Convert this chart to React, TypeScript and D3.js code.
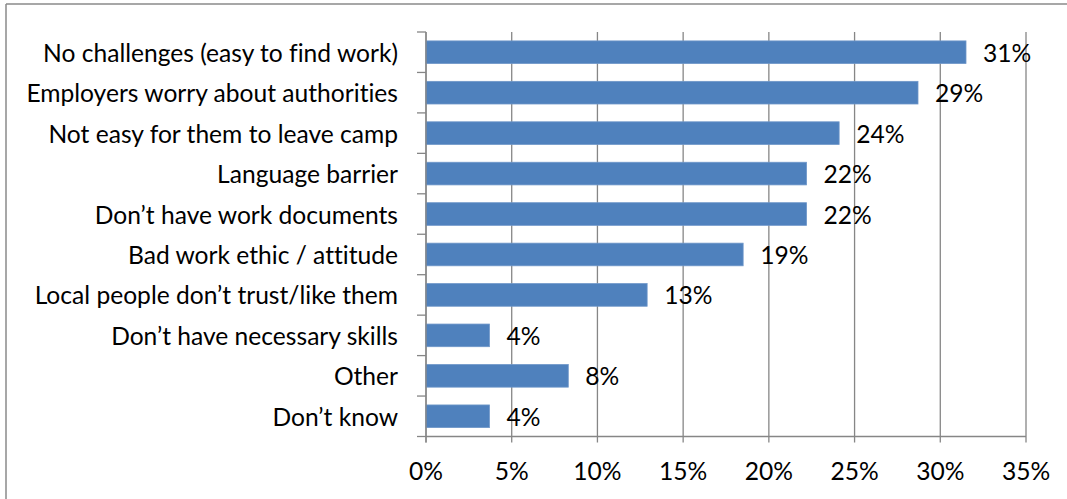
import React from 'react';
import * as d3 from 'd3';

const categories = [
  'No challenges (easy to find work)',
  'Employers worry about authorities',
  'Not easy for them to leave camp',
  'Language barrier',
  'Don\u2019t have work documents',
  'Bad work ethic / attitude',
  'Local people don\u2019t trust/like them',
  'Don\u2019t have necessary skills',
  'Other',
  'Don\u2019t know',
];
const values = [31.5, 28.7, 24.1, 22.2, 22.2, 18.5, 12.9, 3.7, 8.3, 3.7];
const valueLabels = ['31%', '29%', '24%', '22%', '22%', '19%', '13%', '4%', '8%', '4%'];
const xTicks = [0, 5, 10, 15, 20, 25, 30, 35];

const W = 1067;
const H = 499;
const left = 426;
const right = 1026;
const top = 32;
const bottom = 436.5;
const FONT = 'Lato, sans-serif';
const FS = 24.6;
const GRID = '#868686';

export default function App() {
  const x = d3.scaleLinear().domain([0, 35]).range([left, right]);
  const y = d3
    .scaleBand<string>()
    .domain(categories)
    .range([top, bottom])
    .paddingInner(0.44)
    .paddingOuter(0.22);
  const band = (bottom - top) / categories.length;
  const boundaries = d3.range(categories.length + 1).map((i) => top + i * band);

  return (
    <svg
      width={W}
      height={H}
      style={{ position: 'absolute', left: 0, top: 0, background: '#fff', fontVariantLigatures: 'none' }}
      fontFamily={FONT}
    >
      <rect x={0} y={0} width={W} height={H} fill="#fff" />
      {/* outer border */}
      <line x1={6} y1={4} x2={W} y2={4} stroke="#8a8a8a" strokeWidth={1.5} />
      <line x1={6} y1={4} x2={6} y2={H} stroke="#8a8a8a" strokeWidth={1.5} />

      {/* vertical gridlines */}
      {xTicks.map((t) => (
        <line key={'g' + t} x1={x(t)} x2={x(t)} y1={top} y2={bottom + 6} stroke={GRID} strokeWidth={1.3} />
      ))}
      {/* x axis line */}
      <line x1={left} x2={right} y1={bottom} y2={bottom} stroke={GRID} strokeWidth={1.3} />
      {/* y axis category ticks */}
      {boundaries.map((b, i) => (
        <line key={'yt' + i} x1={left - 9} x2={left} y1={b} y2={b} stroke={GRID} strokeWidth={1.3} />
      ))}

      {/* bars */}
      {categories.map((c, i) => (
        <rect
          key={c}
          x={x(0)}
          y={y(c)}
          width={x(values[i]) - x(0)}
          height={y.bandwidth()}
          fill="#4F81BD"
          stroke="#6f97c9"
          strokeWidth={0.8}
        />
      ))}

      {/* y axis line on top */}
      <line x1={left} x2={left} y1={top} y2={bottom + 6} stroke={GRID} strokeWidth={1.3} />

      {/* value labels */}
      {categories.map((c, i) => (
        <text
          key={'v' + c}
          x={x(values[i]) + 17}
          y={(y(c) as number) + y.bandwidth() / 2}
          dominantBaseline="central"
          fontSize={FS}
          fill="#000"
        >
          {valueLabels[i]}
        </text>
      ))}

      {/* category labels */}
      {categories.map((c) => (
        <text
          key={'c' + c}
          x={398}
          y={(y(c) as number) + y.bandwidth() / 2}
          dominantBaseline="central"
          textAnchor="end"
          fontSize={FS}
          fill="#000"
        >
          {c}
        </text>
      ))}

      {/* x tick labels */}
      {xTicks.map((t) => (
        <text key={'xl' + t} x={x(t)} y={470} dominantBaseline="central" textAnchor="middle" fontSize={FS} fill="#000">
          {t + '%'}
        </text>
      ))}
    </svg>
  );
}
